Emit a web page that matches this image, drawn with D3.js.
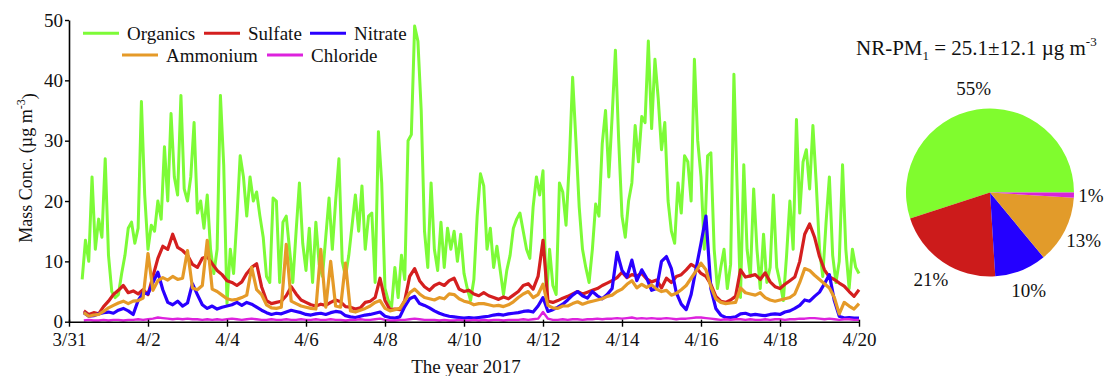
<!DOCTYPE html>
<html>
<head>
<meta charset="utf-8">
<script src="https://cdn.jsdelivr.net/npm/d3@7"></script>
<style>
  html, body { margin: 0; padding: 0; background: #fff; }
  svg { display: block; font-family: "Liberation Serif", "Times New Roman", serif; }
</style>
</head>
<body>
<svg id="chart" width="1106" height="376"></svg>
<script>
// NR-PM1 species mass concentrations (µg m-3)
// Organics: 2-hour averages starting 2017-03-31 08:00
const organics = [
  7, 13.5, 10, 24, 12, 17, 14, 27,
  11, 5, 4, 4.5, 8, 11, 15.5, 16.5, 13, 15.5, 36.5, 21,
  12, 16, 15, 20, 17, 29, 20, 34.5, 24, 21, 37.5, 22,
  20, 24, 33, 18, 20, 15.5, 21, 12, 8, 12, 37.5, 26,
  3, 12, 8, 17, 27.5, 24, 17.5, 24, 20, 21.5, 17.5, 14,
  7.5, 6.5, 20.5, 20, 6.5, 16.5, 17.5, 12, 6.5, 15, 23, 13,
  8.5, 15.5, 6.5, 16.5, 9.5, 7.5, 14, 20.5, 12, 20, 27, 10,
  7.5, 11, 16, 21, 15, 22.5, 12, 17.5, 18, 6.5, 31.5, 23,
  5.5, 3.5, 2.5, 9, 4, 11, 7, 30, 31, 49, 46.5, 35,
  15, 9, 23, 12, 8.5, 16.5, 9, 15.5, 12, 15, 10, 14.5,
  8, 5.5, 3.5, 7, 17.5, 24.5, 22.5, 12, 15.5, 9, 12.5, 8.5,
  4.5, 8.5, 11, 15.5, 17, 18, 15, 12, 10.5, 19, 24, 21,
  25, 3.5, 12, 6, 4.5, 23, 21.5, 16, 26.5, 40.5, 30, 19,
  12, 9, 6.5, 12, 19.5, 17.5, 29.5, 35, 24, 34, 45, 30,
  17.5, 14, 20, 23, 32.5, 26.5, 34, 33, 46.5, 32, 43.5, 37,
  28.5, 33, 20, 15, 13, 23, 18, 27.5, 26.5, 20, 43.5, 30,
  24, 12, 27.5, 28, 12, 5.5, 9, 12, 5.5, 9.5, 41, 22,
  4, 26, 12, 7.5, 22, 12, 5.5, 14.5, 6.5, 9, 21, 9,
  6.5, 3.5, 11, 20, 12, 33.5, 18, 26.5, 28.5, 22, 32.5, 23,
  12, 7.5, 16.5, 24, 11, 6.5, 10, 26, 12, 5.5, 12, 9,
  8
];

// Inorganic species: 3-hour averages starting 2017-03-31 09:00
const sulfate = [
  1.8, 1.2, 1.5, 1.3, 2.5,
  3.4, 4.5, 5.2, 6, 4.8, 5.1, 4.6, 5.3,
  4.5, 7.5, 10.5, 12.5, 12, 14.5, 12.3, 11.8,
  11, 9.5, 9, 10.5, 10.8, 9.6, 8.5, 7.8,
  6.8, 6.5, 6, 6.6, 8, 9, 9.6, 5.8,
  3.5, 3, 3.2, 3.4, 4.3, 5.8, 4.6, 3.6,
  3.2, 2.8, 2.6, 2.9, 2.7, 3.2, 3.6, 3.3,
  2.5, 2.4, 2.1, 2.3, 3.2, 3.4, 4, 7.2,
  3.5, 2, 2.1, 2, 3.5, 7.5, 8.8, 6.8,
  5.8, 5.2, 6, 6.4, 6, 6.8, 7.2, 5.4,
  5, 5.2, 4.6, 4.3, 4.8, 4.3, 4, 3.7,
  4.1, 3.8, 4.4, 5, 6, 6.3, 5.4, 7.5,
  13.5, 3.4, 3.2, 3.5, 3.9, 4.2, 4.6, 5,
  4.6, 4.9, 5.2, 5.5, 6, 6.4, 6.8, 7.3,
  8.2, 7.3, 7.8, 7.6, 8, 7.1, 6.6, 6.9,
  5.6, 7.2, 6.5, 7.5, 7.8, 8.6, 9.5, 9,
  8, 7.5, 6.2, 4.2, 3.4, 3.2, 3.6, 4.2,
  8.6, 7.4, 7.6, 7.8, 7, 8.1, 6.6, 5.8,
  5.5, 6.2, 6.8, 7.4, 10, 14.5, 16.2, 14,
  10.8, 8.6, 7.4, 7, 6.4, 5.9, 5, 4.2,
  5.3
];

const nitrate = [
  1.5, 0.9, 1, 1.3, 1.5,
  1.6, 1.4, 1.9, 2.2, 1.8, 1.2, 3.5, 4.8,
  4.6, 6.5, 8.2, 5.3, 3.2, 2.8, 3.4, 2.6,
  3.1, 6.3, 4.5, 2.8, 2.2, 2.6, 2.1, 2.4,
  2.6, 2.8, 3.2, 2.7, 3.2, 2.9, 2.4, 1.9,
  1.5, 1.2, 1.4, 1.3, 1.6, 1.9, 1.7, 1.5,
  1.2, 1.1, 1.3, 1.4, 1.2, 1.5, 1.7, 1.6,
  1, 0.8, 0.7, 0.9, 1.1, 1.2, 1.4, 1.6,
  0.9, 0.7, 0.6, 0.8, 2.5, 3.8, 4.2, 3,
  2.7, 2.3, 1.8, 1.4, 1.1, 0.9, 0.8, 0.7,
  0.6, 0.7, 0.6, 0.7, 0.8, 0.9, 1.1, 1.2,
  1.1, 1.3, 1.4, 1.5, 1.7, 1.8, 1.6, 2.6,
  4, 1.7, 2, 2.4, 2.9, 3.6, 4.4, 5,
  4.3, 3.9, 5, 4.3, 3.8, 4.5, 5.5, 11.5,
  8.5, 7.4, 10.2, 6.8, 8.6, 7.2, 5.2, 5.5,
  10, 10.8, 8.8, 4.8, 2.9, 2, 4.5, 8.8,
  13, 17.5, 5.5, 2.2, 1.1, 0.7, 0.7, 0.8,
  1.3, 1.4, 1.1, 1.2, 1.1, 1, 1.2, 1.3,
  1.2, 1.6, 1.8, 2.2, 2.7, 3.6, 3.4, 4.2,
  4.9, 6.3, 7.8, 3.5, 0.9, 0.6, 0.7, 0.6,
  0.6
];

const ammonium = [
  1.5, 0.9, 1.1, 1.2, 1.7,
  2.3, 2.7, 3.1, 3.4, 3, 3.4, 3.5, 3.9,
  11.3, 5.2, 6.8, 7.3, 6.9, 7.5, 7, 7.2,
  11.8, 5.6, 5.3, 6, 13.5, 5.4, 5, 4.4,
  3.8, 3.6, 3.7, 4, 4.4, 9, 5.3, 4.5,
  2.8, 2.3, 2.2, 2.4, 12.8, 3.4, 3, 2.6,
  2.4, 2.2, 2.1, 12, 2.4, 10, 2.6, 2.4,
  9.7, 1.8, 1.6, 1.9, 2.2, 2.6, 3.2, 3.5,
  2.2, 1.8, 2, 2.2, 3.4, 4.8, 5.4, 4.6,
  4, 3.8, 3.6, 4, 3.8, 4.6, 4.5, 3.8,
  3.4, 3.2, 2.8, 3, 3, 2.8, 2.6, 2.7,
  2.5, 2.8, 3.3, 4, 4.6, 5, 4, 4.5,
  6.2, 2.7, 2.3, 2.2, 2.6, 2.6, 3, 3.3,
  2.9, 3.2, 3.4, 3.6, 3.8, 4.2, 4.4, 5,
  5.4, 6.2, 6.8, 5.6, 6.2, 5.7, 6.1, 5.4,
  5, 5.2, 4.4, 4.7, 5.3, 6, 7.2, 8.4,
  9.7, 8.6, 5.8, 3.8, 3.2, 3, 3.1, 3.2,
  5.6, 4.8, 4.6, 4.4, 4.8, 4, 3.6, 3.4,
  3.6, 3.8, 4, 4.6, 6.5, 8.8, 8.5, 7.7,
  7, 6.3, 5.6, 4, 1.3, 3.2, 2.6, 2.1,
  3
];

const chloride = [
  0.2, 0.3, 0.2, 0.2, 0.3,
  0.2, 0.3, 0.3, 0.2, 0.3, 0.3, 0.4, 0.3,
  0.4, 0.5, 0.7, 0.6, 0.5, 0.4, 0.5, 0.4,
  0.5, 0.4, 0.4, 0.3, 0.4, 0.3, 0.4, 0.3,
  0.4, 0.5, 0.4, 0.3, 0.4, 0.5, 0.4, 0.3,
  0.3, 0.4, 0.3, 0.3, 0.4, 0.3, 0.3, 0.4,
  0.3, 0.3, 0.4, 0.3, 0.3, 0.4, 0.3, 0.3,
  0.2, 0.3, 0.3, 0.4, 0.3, 0.3, 0.4, 0.5,
  0.3, 0.2, 0.2, 0.3, 0.3, 0.4, 0.5, 0.4,
  0.3, 0.3, 0.3, 0.2, 0.3, 0.2, 0.2, 0.3,
  0.2, 0.2, 0.3, 0.2, 0.3, 0.2, 0.3, 0.3,
  0.2, 0.3, 0.3, 0.3, 0.4, 0.3, 0.4, 0.5,
  1.6, 0.5, 0.3, 0.3, 0.4, 0.3, 0.4, 0.4,
  0.3, 0.4, 0.4, 0.5, 0.4, 0.5, 0.5, 0.6,
  0.5, 0.6, 0.7, 0.5, 0.6, 0.5, 0.6, 0.5,
  0.5, 0.6, 0.5, 0.4, 0.5, 0.5, 0.6, 0.7,
  0.7, 0.6, 0.5, 0.4, 0.3, 0.4, 0.3, 0.4,
  0.4, 0.3, 0.4, 0.3, 0.3, 0.4, 0.3, 0.4,
  0.4, 0.3, 0.4, 0.4, 0.5, 0.5, 0.6, 0.6,
  0.5, 0.4, 0.5, 0.4, 0.3, 0.4, 0.4, 0.3,
  0.3
];

const speciesNames = ["Organics", "Sulfate", "Nitrate", "Ammonium", "Chloride"];
const pieShares = [55, 21, 10, 13, 1];       // % of NR-PM1
const pieLabels = ["55%", "21%", "10%", "13%", "1%"];
const xTickLabels = ["3/31", "4/2", "4/4", "4/6", "4/8", "4/10", "4/12", "4/14", "4/16", "4/18", "4/20"];
const yTickValues = [0, 10, 20, 30, 40, 50];

const lineColors = {
  Organics: "#7dfb37", Sulfate: "#d41f1f", Nitrate: "#2a00ff",
  Ammonium: "#e59a28", Chloride: "#dd22dd"
};
const pieColors = ["#80fc2e", "#cc1b1b", "#2400ff", "#e29b2a", "#d822d8"];

const HOUR = 3600e3;
const organicsStart = new Date(2017, 2, 31, 8);
const inorganicStart = new Date(2017, 2, 31, 9);

function toSeries(values, start, stepHours) {
  return values.map((v, i) => ({ t: new Date(start.getTime() + i * stepHours * HOUR), v }));
}

const series = {
  Organics: toSeries(organics, organicsStart, 2),
  Sulfate: toSeries(sulfate, inorganicStart, 3),
  Nitrate: toSeries(nitrate, inorganicStart, 3),
  Ammonium: toSeries(ammonium, inorganicStart, 3),
  Chloride: toSeries(chloride, inorganicStart, 3)
};

const svg = d3.select("#chart");

const x = d3.scaleTime()
  .domain([new Date(2017, 2, 31), new Date(2017, 3, 20)])
  .range([69, 859]);
const y = d3.scaleLinear().domain([0, 50]).range([321.7, 20]);

const line = d3.line().x(d => x(d.t)).y(d => y(d.v));

// time series, organics underneath
const strokeWidths = { Organics: 3, Sulfate: 3.2, Nitrate: 3.2, Ammonium: 3.2, Chloride: 2.4 };
const drawOrder = ["Organics", "Sulfate", "Nitrate", "Ammonium", "Chloride"];
svg.append("g").selectAll("path")
  .data(drawOrder)
  .join("path")
  .attr("d", k => line(series[k]))
  .attr("fill", "none")
  .attr("stroke", k => lineColors[k])
  .attr("stroke-width", k => strokeWidths[k])
  .attr("stroke-linejoin", "round");

// axes
const xTickDates = xTickLabels.map(s => {
  const [m, d] = s.split("/").map(Number);
  return new Date(2017, m - 1, d);
});

const xAxis = svg.append("g")
  .attr("transform", `translate(0,${y(0)})`)
  .call(d3.axisBottom(x).tickValues(xTickDates)
    .tickFormat((d, i) => xTickLabels[i]).tickSize(5).tickSizeOuter(0).tickPadding(6));

const yAxis = svg.append("g")
  .attr("transform", `translate(${x.range()[0]},0)`)
  .call(d3.axisLeft(y).tickValues(yTickValues).tickSize(4).tickSizeOuter(0).tickPadding(2));

[xAxis, yAxis].forEach(g => {
  g.attr("font-family", null).attr("font-size", null);
  g.select(".domain").attr("stroke", "#000").attr("stroke-width", 1.6);
  g.selectAll(".tick line").attr("stroke", "#000").attr("stroke-width", 1.4);
  g.selectAll(".tick text").attr("fill", "#111").style("font-size", "19px");
});
xAxis.selectAll(".tick line").attr("y1", -2);

// axis titles
svg.append("text")
  .attr("x", 466).attr("y", 373)
  .attr("text-anchor", "middle")
  .style("font-size", "19px").attr("fill", "#111")
  .text("The year 2017");

const yTitle = svg.append("text")
  .attr("transform", "translate(32,168) rotate(-90)")
  .attr("text-anchor", "middle")
  .style("font-size", "18px").attr("fill", "#111");
yTitle.append("tspan").text("Mass Conc. (\u00b5g m");
yTitle.append("tspan").attr("dy", "-0.55em").style("font-size", "12px").text("-3");
yTitle.append("tspan").attr("dy", "0.55em").text(")");

// legend
const legendItems = [
  { name: "Organics", lx: 83, ly: 33.3 },
  { name: "Sulfate", lx: 204, ly: 33.3 },
  { name: "Nitrate", lx: 310, ly: 33.3 },
  { name: "Ammonium", lx: 122, ly: 55 },
  { name: "Chloride", lx: 267, ly: 55 }
];
const legend = svg.append("g").selectAll("g").data(legendItems).join("g");
legend.append("line")
  .attr("x1", d => d.lx).attr("x2", d => d.lx + 36)
  .attr("y1", d => d.ly).attr("y2", d => d.ly)
  .attr("stroke", d => lineColors[d.name]).attr("stroke-width", 3);
legend.append("text")
  .attr("x", d => d.lx + 44).attr("y", d => d.ly + 6.8)
  .style("font-size", "19px").attr("fill", "#111")
  .text(d => d.name);

// pie of mean composition
const pieCx = 990, pieCy = 192.5, pieR = 84;
const pie = d3.pie().sort(null)
  .startAngle(Math.PI / 2).endAngle(Math.PI / 2 - 2 * Math.PI);
const arcs = pie(pieShares);
const arc = d3.arc().innerRadius(0).outerRadius(pieR);
const labelRadius = [105, 105, 105, 105, 101];

const pieG = svg.append("g").attr("transform", `translate(${pieCx},${pieCy})`);
pieG.selectAll("path").data(arcs).join("path")
  .attr("d", arc)
  .attr("fill", (d, i) => pieColors[i]);
pieG.selectAll("text").data(arcs).join("text")
  .attr("transform", (d, i) => {
    const r = labelRadius[i];
    return `translate(${d3.arc().innerRadius(r).outerRadius(r).centroid(d)})`;
  })
  .attr("text-anchor", "middle")
  .attr("dy", "0.35em")
  .style("font-size", "19px").attr("fill", "#111")
  .text((d, i) => pieLabels[i]);

const title = svg.append("text")
  .attr("x", 856).attr("y", 55)
  .style("font-size", "21px").attr("fill", "#111");
title.append("tspan").text("NR-PM");
title.append("tspan").attr("dy", 5).style("font-size", "13px").text("1");
title.append("tspan").attr("dy", -5).text(" = 25.1\u00b112.1 \u00b5g m");
title.append("tspan").attr("dy", -9).style("font-size", "13px").text("-3");
</script>
</body>
</html>
